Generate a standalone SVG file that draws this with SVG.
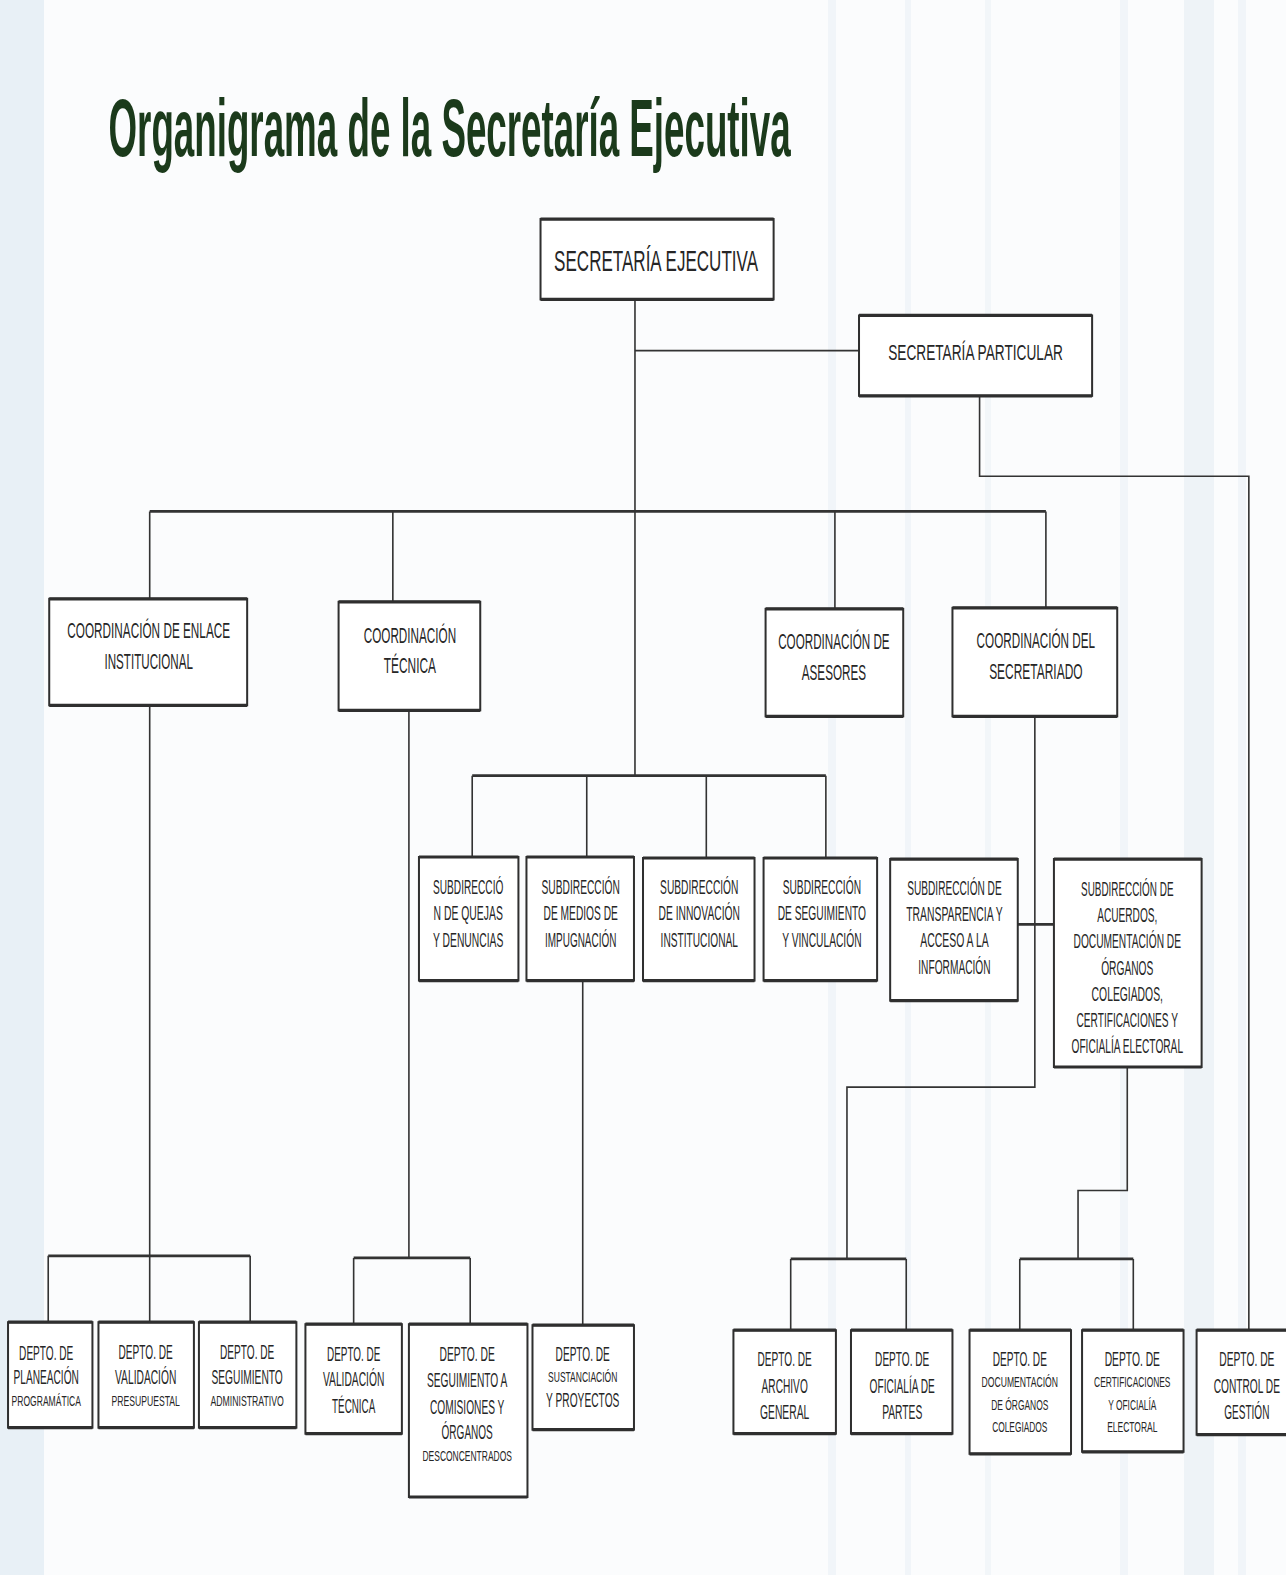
<svg xmlns="http://www.w3.org/2000/svg" width="1286" height="1575" viewBox="0 0 1286 1575">
  <style>
    .box { fill: #ffffff; stroke: #2f2f2f; stroke-width: 2; }
    .edge { stroke: #2f2f2f; stroke-width: 3.2; fill: none; }
    .wire { stroke: #333333; stroke-width: 1.6; fill: none; }
    .bar { stroke: #333333; stroke-width: 2.6; fill: none; }
    text { font-family: "Liberation Sans Narrow", "Liberation Sans", Arial, sans-serif; fill: #262626; text-anchor: middle; }
    .l { font-size: 30px; }
    .m { font-size: 22px; }
    .t { font-size: 20px; }
    .s { font-size: 15px; }
    .title { font-size: 82px; font-weight: bold; fill: #1b3a1b; text-anchor: start; }
  </style>

  <!-- paper -->
  <rect x="0" y="0" width="1286" height="1575" fill="#fbfcfd"/>
  <rect x="0" y="0" width="44" height="1575" fill="#e8f0f6"/>
  <rect x="828" y="0" width="8" height="1575" fill="#f1f5f9"/>
  <rect x="905" y="0" width="6" height="1575" fill="#f1f5f9"/>
  <rect x="985" y="0" width="6" height="1575" fill="#f2f6f9"/>
  <rect x="1120" y="0" width="8" height="1575" fill="#f1f5f9"/>
  <rect x="1184" y="0" width="30" height="1575" fill="#eef3f7"/>
  <rect x="1238" y="0" width="8" height="1575" fill="#f1f5f9"/>

  <g transform="scale(1.0047)">
    <text class="title" x="108" y="155" textLength="679" lengthAdjust="spacingAndGlyphs">Organigrama de la Secretaría Ejecutiva</text>

    <g id="connectors">
      <path class="wire" d="M632 298 V772"/>
      <path class="wire" d="M632 349 H855"/>
      <path class="wire" d="M975 394 V474 H1243 V1324"/>
      <path class="bar" d="M149 509 H1041"/>
      <path class="wire" d="M149 509 V596 M391 509 V599 M831 509 V606 M1041 509 V605"/>
      <path class="bar" d="M470 772 H822"/>
      <path class="wire" d="M470 772 V853 M584 772 V853 M703 772 V854 M822 772 V854"/>
      <path class="wire" d="M149 702 V1250"/>
      <path class="bar" d="M48 1250 H249"/>
      <path class="wire" d="M48 1250 V1316 M149 1250 V1316 M249 1250 V1316"/>
      <path class="wire" d="M407 707 V1252"/>
      <path class="bar" d="M352 1252 H468"/>
      <path class="wire" d="M352 1252 V1318 M468 1252 V1318"/>
      <path class="wire" d="M580 976 V1319"/>
      <path class="wire" d="M1030 713 V1082 H843 V1253"/>
      <path class="bar" d="M787 1253 H902"/>
      <path class="wire" d="M787 1253 V1324 M902 1253 V1324"/>
      <path class="bar" d="M1013 920 H1049"/>
      <path class="wire" d="M1122 1062 V1185 H1073 V1253"/>
      <path class="bar" d="M1015 1253 H1128"/>
      <path class="wire" d="M1015 1253 V1324 M1128 1253 V1324"/>
    </g>

    <g id="secretaria-ejecutiva">
      <rect class="box" x="538" y="218" width="232" height="80"/>
      <path class="edge" d="M538 218 H770 M538 298 H770"/>
      <text class="l" x="653" y="270" textLength="203" lengthAdjust="spacingAndGlyphs">SECRETARÍA EJECUTIVA</text>
    </g>

    <g id="secretaria-particular">
      <rect class="box" x="855" y="314" width="232" height="80"/>
      <path class="edge" d="M855 314 H1087 M855 394 H1087"/>
      <text class="m" x="971" y="358" textLength="174" lengthAdjust="spacingAndGlyphs">SECRETARÍA PARTICULAR</text>
    </g>

    <g id="coord-enlace">
      <rect class="box" x="49" y="596" width="197" height="106"/>
      <path class="edge" d="M49 596 H246 M49 702 H246"/>
      <text class="m" x="148" y="635" textLength="162" lengthAdjust="spacingAndGlyphs">COORDINACIÓN DE ENLACE</text>
      <text class="m" x="148" y="666" textLength="88" lengthAdjust="spacingAndGlyphs">INSTITUCIONAL</text>
    </g>

    <g id="coord-tecnica">
      <rect class="box" x="337" y="599" width="141" height="108"/>
      <path class="edge" d="M337 599 H478 M337 707 H478"/>
      <text class="m" x="408" y="640" textLength="92" lengthAdjust="spacingAndGlyphs">COORDINACIÓN</text>
      <text class="m" x="408" y="670" textLength="52" lengthAdjust="spacingAndGlyphs">TÉCNICA</text>
    </g>

    <g id="coord-asesores">
      <rect class="box" x="762" y="606" width="137" height="107"/>
      <path class="edge" d="M762 606 H899 M762 713 H899"/>
      <text class="m" x="830" y="646" textLength="111" lengthAdjust="spacingAndGlyphs">COORDINACIÓN DE</text>
      <text class="m" x="830" y="677" textLength="64" lengthAdjust="spacingAndGlyphs">ASESORES</text>
    </g>

    <g id="coord-secretariado">
      <rect class="box" x="948" y="605" width="164" height="108"/>
      <path class="edge" d="M948 605 H1112 M948 713 H1112"/>
      <text class="m" x="1031" y="645" textLength="118" lengthAdjust="spacingAndGlyphs">COORDINACIÓN DEL</text>
      <text class="m" x="1031" y="676" textLength="93" lengthAdjust="spacingAndGlyphs">SECRETARIADO</text>
    </g>

    <g id="sub-quejas">
      <rect class="box" x="417" y="853" width="99" height="123"/>
      <path class="edge" d="M417 853 H516 M417 976 H516"/>
      <text class="t" x="466" y="890" textLength="70" lengthAdjust="spacingAndGlyphs">SUBDIRECCIÓ</text>
      <text class="t" x="466" y="916" textLength="69" lengthAdjust="spacingAndGlyphs">N DE QUEJAS</text>
      <text class="t" x="466" y="943" textLength="70" lengthAdjust="spacingAndGlyphs">Y DENUNCIAS</text>
    </g>

    <g id="sub-medios">
      <rect class="box" x="524" y="853" width="107" height="123"/>
      <path class="edge" d="M524 853 H631 M524 976 H631"/>
      <text class="t" x="578" y="890" textLength="78" lengthAdjust="spacingAndGlyphs">SUBDIRECCIÓN</text>
      <text class="t" x="578" y="916" textLength="74" lengthAdjust="spacingAndGlyphs">DE MEDIOS DE</text>
      <text class="t" x="578" y="943" textLength="71" lengthAdjust="spacingAndGlyphs">IMPUGNACIÓN</text>
    </g>

    <g id="sub-innovacion">
      <rect class="box" x="640" y="854" width="111" height="122"/>
      <path class="edge" d="M640 854 H751 M640 976 H751"/>
      <text class="t" x="696" y="890" textLength="78" lengthAdjust="spacingAndGlyphs">SUBDIRECCIÓN</text>
      <text class="t" x="696" y="916" textLength="81" lengthAdjust="spacingAndGlyphs">DE INNOVACIÓN</text>
      <text class="t" x="696" y="943" textLength="77" lengthAdjust="spacingAndGlyphs">INSTITUCIONAL</text>
    </g>

    <g id="sub-seguimiento">
      <rect class="box" x="760" y="854" width="113" height="122"/>
      <path class="edge" d="M760 854 H873 M760 976 H873"/>
      <text class="t" x="818" y="890" textLength="78" lengthAdjust="spacingAndGlyphs">SUBDIRECCIÓN</text>
      <text class="t" x="818" y="916" textLength="88" lengthAdjust="spacingAndGlyphs">DE SEGUIMIENTO</text>
      <text class="t" x="818" y="943" textLength="79" lengthAdjust="spacingAndGlyphs">Y VINCULACIÓN</text>
    </g>

    <g id="sub-transparencia">
      <rect class="box" x="886" y="855" width="127" height="141"/>
      <path class="edge" d="M886 855 H1013 M886 996 H1013"/>
      <text class="t" x="950" y="891" textLength="94" lengthAdjust="spacingAndGlyphs">SUBDIRECCIÓN DE</text>
      <text class="t" x="950" y="917" textLength="96" lengthAdjust="spacingAndGlyphs">TRANSPARENCIA Y</text>
      <text class="t" x="950" y="943" textLength="68" lengthAdjust="spacingAndGlyphs">ACCESO A LA</text>
      <text class="t" x="950" y="969" textLength="72" lengthAdjust="spacingAndGlyphs">INFORMACIÓN</text>
    </g>

    <g id="sub-acuerdos">
      <rect class="box" x="1049" y="855" width="147" height="207"/>
      <path class="edge" d="M1049 855 H1196 M1049 1062 H1196"/>
      <text class="t" x="1122" y="892" textLength="92" lengthAdjust="spacingAndGlyphs">SUBDIRECCIÓN DE</text>
      <text class="t" x="1122" y="918" textLength="60" lengthAdjust="spacingAndGlyphs">ACUERDOS,</text>
      <text class="t" x="1122" y="944" textLength="107" lengthAdjust="spacingAndGlyphs">DOCUMENTACIÓN DE</text>
      <text class="t" x="1122" y="970" textLength="52" lengthAdjust="spacingAndGlyphs">ÓRGANOS</text>
      <text class="t" x="1122" y="996" textLength="71" lengthAdjust="spacingAndGlyphs">COLEGIADOS,</text>
      <text class="t" x="1122" y="1022" textLength="101" lengthAdjust="spacingAndGlyphs">CERTIFICACIONES Y</text>
      <text class="t" x="1122" y="1048" textLength="111" lengthAdjust="spacingAndGlyphs">OFICIALÍA ELECTORAL</text>
    </g>

    <g id="depto-planeacion">
      <rect class="box" x="8" y="1316" width="84" height="105"/>
      <path class="edge" d="M8 1316 H92 M8 1421 H92"/>
      <text class="t" x="46" y="1354" textLength="54" lengthAdjust="spacingAndGlyphs">DEPTO. DE</text>
      <text class="t" x="46" y="1378" textLength="65" lengthAdjust="spacingAndGlyphs">PLANEACIÓN</text>
      <text class="s" x="46" y="1399" textLength="69" lengthAdjust="spacingAndGlyphs">PROGRAMÁTICA</text>
    </g>

    <g id="depto-presupuestal">
      <rect class="box" x="98" y="1316" width="95" height="105"/>
      <path class="edge" d="M98 1316 H193 M98 1421 H193"/>
      <text class="t" x="145" y="1353" textLength="54" lengthAdjust="spacingAndGlyphs">DEPTO. DE</text>
      <text class="t" x="145" y="1378" textLength="61" lengthAdjust="spacingAndGlyphs">VALIDACIÓN</text>
      <text class="s" x="145" y="1399" textLength="68" lengthAdjust="spacingAndGlyphs">PRESUPUESTAL</text>
    </g>

    <g id="depto-seguimiento-admin">
      <rect class="box" x="198" y="1316" width="97" height="105"/>
      <path class="edge" d="M198 1316 H295 M198 1421 H295"/>
      <text class="t" x="246" y="1353" textLength="54" lengthAdjust="spacingAndGlyphs">DEPTO. DE</text>
      <text class="t" x="246" y="1378" textLength="71" lengthAdjust="spacingAndGlyphs">SEGUIMIENTO</text>
      <text class="s" x="246" y="1399" textLength="73" lengthAdjust="spacingAndGlyphs">ADMINISTRATIVO</text>
    </g>

    <g id="depto-validacion-tecnica">
      <rect class="box" x="304" y="1318" width="96" height="109"/>
      <path class="edge" d="M304 1318 H400 M304 1427 H400"/>
      <text class="t" x="352" y="1355" textLength="53" lengthAdjust="spacingAndGlyphs">DEPTO. DE</text>
      <text class="t" x="352" y="1380" textLength="61" lengthAdjust="spacingAndGlyphs">VALIDACIÓN</text>
      <text class="t" x="352" y="1406" textLength="43" lengthAdjust="spacingAndGlyphs">TÉCNICA</text>
    </g>

    <g id="depto-comisiones">
      <rect class="box" x="407" y="1318" width="118" height="172"/>
      <path class="edge" d="M407 1318 H525 M407 1490 H525"/>
      <text class="t" x="465" y="1355" textLength="55" lengthAdjust="spacingAndGlyphs">DEPTO. DE</text>
      <text class="t" x="465" y="1381" textLength="80" lengthAdjust="spacingAndGlyphs">SEGUIMIENTO A</text>
      <text class="t" x="465" y="1407" textLength="74" lengthAdjust="spacingAndGlyphs">COMISIONES Y</text>
      <text class="t" x="465" y="1432" textLength="51" lengthAdjust="spacingAndGlyphs">ÓRGANOS</text>
      <text class="s" x="465" y="1454" textLength="89" lengthAdjust="spacingAndGlyphs">DESCONCENTRADOS</text>
    </g>

    <g id="depto-sustanciacion">
      <rect class="box" x="530" y="1319" width="101" height="104"/>
      <path class="edge" d="M530 1319 H631 M530 1423 H631"/>
      <text class="t" x="580" y="1355" textLength="54" lengthAdjust="spacingAndGlyphs">DEPTO. DE</text>
      <text class="s" x="580" y="1376" textLength="69" lengthAdjust="spacingAndGlyphs">SUSTANCIACIÓN</text>
      <text class="t" x="580" y="1400" textLength="73" lengthAdjust="spacingAndGlyphs">Y PROYECTOS</text>
    </g>

    <g id="depto-archivo">
      <rect class="box" x="730" y="1324" width="102" height="103"/>
      <path class="edge" d="M730 1324 H832 M730 1427 H832"/>
      <text class="t" x="781" y="1360" textLength="54" lengthAdjust="spacingAndGlyphs">DEPTO. DE</text>
      <text class="t" x="781" y="1386" textLength="46" lengthAdjust="spacingAndGlyphs">ARCHIVO</text>
      <text class="t" x="781" y="1412" textLength="49" lengthAdjust="spacingAndGlyphs">GENERAL</text>
    </g>

    <g id="depto-oficialia-partes">
      <rect class="box" x="847" y="1324" width="101" height="103"/>
      <path class="edge" d="M847 1324 H948 M847 1427 H948"/>
      <text class="t" x="898" y="1360" textLength="54" lengthAdjust="spacingAndGlyphs">DEPTO. DE</text>
      <text class="t" x="898" y="1386" textLength="65" lengthAdjust="spacingAndGlyphs">OFICIALÍA DE</text>
      <text class="t" x="898" y="1412" textLength="40" lengthAdjust="spacingAndGlyphs">PARTES</text>
    </g>

    <g id="depto-documentacion">
      <rect class="box" x="965" y="1324" width="101" height="123"/>
      <path class="edge" d="M965 1324 H1066 M965 1447 H1066"/>
      <text class="t" x="1015" y="1360" textLength="54" lengthAdjust="spacingAndGlyphs">DEPTO. DE</text>
      <text class="s" x="1015" y="1381" textLength="76" lengthAdjust="spacingAndGlyphs">DOCUMENTACIÓN</text>
      <text class="s" x="1015" y="1403" textLength="57" lengthAdjust="spacingAndGlyphs">DE ÓRGANOS</text>
      <text class="s" x="1015" y="1425" textLength="55" lengthAdjust="spacingAndGlyphs">COLEGIADOS</text>
    </g>

    <g id="depto-certificaciones">
      <rect class="box" x="1077" y="1324" width="101" height="121"/>
      <path class="edge" d="M1077 1324 H1178 M1077 1445 H1178"/>
      <text class="t" x="1127" y="1360" textLength="55" lengthAdjust="spacingAndGlyphs">DEPTO. DE</text>
      <text class="s" x="1127" y="1381" textLength="76" lengthAdjust="spacingAndGlyphs">CERTIFICACIONES</text>
      <text class="s" x="1127" y="1403" textLength="48" lengthAdjust="spacingAndGlyphs">Y OFICIALÍA</text>
      <text class="s" x="1127" y="1425" textLength="50" lengthAdjust="spacingAndGlyphs">ELECTORAL</text>
    </g>

    <g id="depto-control-gestion">
      <rect class="box" x="1191" y="1324" width="95" height="104"/>
      <path class="edge" d="M1191 1324 H1286 M1191 1428 H1286"/>
      <text class="t" x="1241" y="1360" textLength="55" lengthAdjust="spacingAndGlyphs">DEPTO. DE</text>
      <text class="t" x="1241" y="1386" textLength="66" lengthAdjust="spacingAndGlyphs">CONTROL DE</text>
      <text class="t" x="1241" y="1412" textLength="45" lengthAdjust="spacingAndGlyphs">GESTIÓN</text>
    </g>
  </g>
</svg>
